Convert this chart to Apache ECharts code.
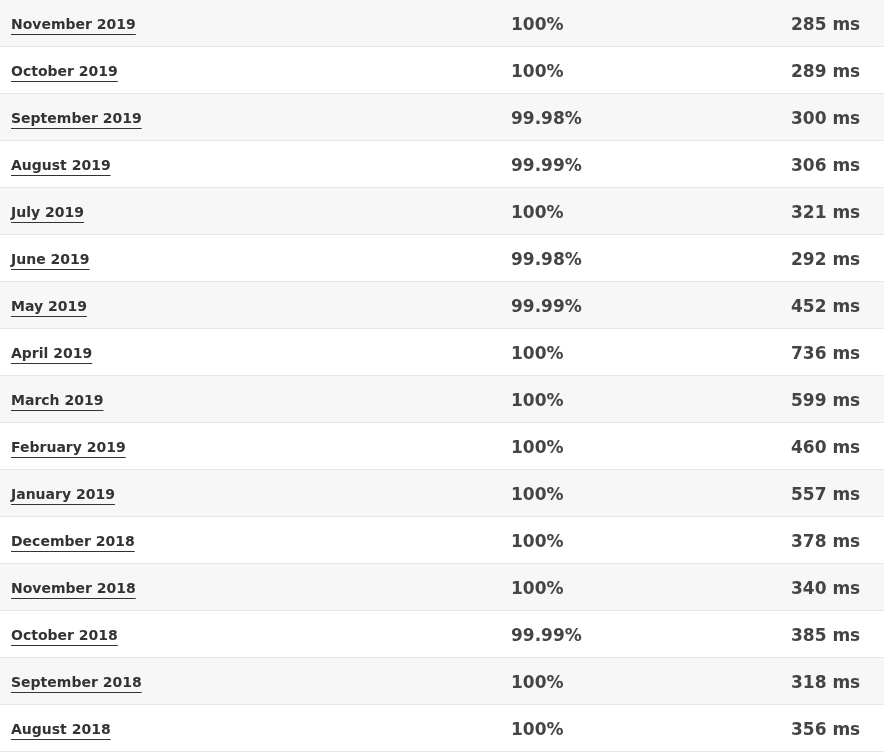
<!DOCTYPE html>
<html>
<head>
<meta charset="utf-8">
<title>Uptime</title>
<script src="https://cdn.jsdelivr.net/npm/echarts@6/dist/echarts.min.js"></script>
<style>html,body{margin:0;padding:0;background:#fff}</style>
</head>
<body>
<div id="main" style="width:884px;height:754px;"></div>
<script type="text/javascript">
var months = ['November 2019','October 2019','September 2019','August 2019','July 2019','June 2019','May 2019','April 2019','March 2019','February 2019','January 2019','December 2018','November 2018','October 2018','September 2018','August 2018'];
var uptime = ['100%','100%','99.98%','99.99%','100%','99.98%','99.99%','100%','100%','100%','100%','100%','100%','99.99%','100%','100%'];
var responseMs = [285,289,300,306,321,292,452,736,599,460,557,378,340,385,318,356];

var monthFont = 'bold 14px "DejaVu Sans"';
var ctx = document.createElement('canvas').getContext('2d');
ctx.font = monthFont;

var myChart = echarts.init(document.getElementById('main'));

function renderRow(params, api) {
    var i = api.value(0);
    var y = api.coord([0, i])[1];
    var h = api.size([0, 1])[1];
    var left = params.coordSys.x, w = params.coordSys.width;
    var top = y - h / 2;
    var ty = y + 2;
    var tw = ctx.measureText(months[i]).width;
    return {
        type: 'group',
        children: [
            {type: 'rect', shape: {x: left, y: top, width: w, height: h},
             style: {fill: i % 2 === 0 ? '#f7f7f7' : '#ffffff'}},
            {type: 'line', shape: {x1: left, y1: top + h - 0.5, x2: left + w, y2: top + h - 0.5},
             style: {stroke: '#e6e6e6', lineWidth: 1}},
            {type: 'text', style: {x: 11, y: ty, text: months[i], font: monthFont,
             fill: '#333', verticalAlign: 'middle'}},
            {type: 'line', shape: {x1: 11, y1: ty + 9, x2: 11 + tw, y2: ty + 9},
             style: {stroke: '#333', lineWidth: 1}},
            {type: 'text', style: {x: 511, y: ty, text: uptime[i], font: 'bold 17px "DejaVu Sans"',
             fill: '#444', verticalAlign: 'middle'}},
            {type: 'text', style: {x: 791, y: ty, text: responseMs[i] + ' ms', font: 'bold 17px "DejaVu Sans"',
             fill: '#444', verticalAlign: 'middle'}}
        ]
    };
}

var option = {
    animation: false,
    grid: {left: 0, right: 0, top: 0, bottom: 2},
    xAxis: {type: 'value', min: 0, max: 1, show: false},
    yAxis: {type: 'category', data: months, inverse: true, show: false},
    series: [{
        type: 'custom',
        renderItem: renderRow,
        data: months.map(function (m, i) { return [i]; }),
        encode: {y: 0}
    }]
};
myChart.setOption(option);
</script>
</body>
</html>
